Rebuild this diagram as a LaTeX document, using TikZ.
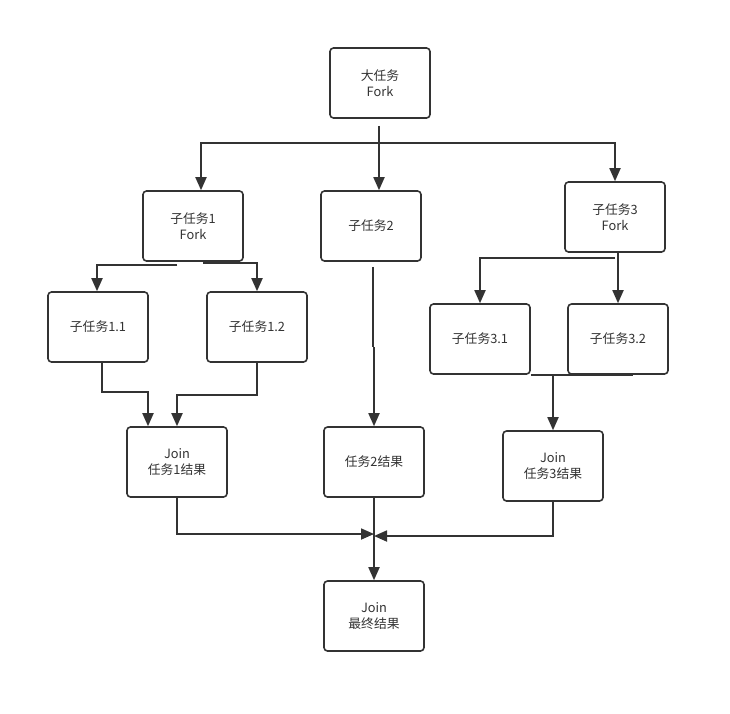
\documentclass[tikz,border=0pt]{standalone}
\usepackage{fontspec}
\setmainfont{Noto Sans CJK SC}
\usetikzlibrary{arrows.meta}
\definecolor{ink}{HTML}{333333}
\begin{document}
\begin{tikzpicture}[x=1pt,y=-1pt,
  box/.style={draw=ink, line width=1.6pt, rounded corners=3.5pt, fill=white,
    minimum width=100pt, minimum height=70pt, inner sep=0pt, align=center,
    text=ink, font=\fontsize{12.8}{15.5}\selectfont},
  conn/.style={draw=ink, line width=1.8pt},
  arr/.style={conn, -{Triangle[length=13pt,width=11pt]}}]
\useasboundingbox[fill=white] (0,0) rectangle (730,713);

\node[box] (top) at (380,83) {大任务\\Fork};
\node[box] (s1) at (193,226) {子任务1\\Fork};
\node[box] (s2) at (371,226) {子任务2};
\node[box] (s3) at (615,217) {子任务3\\Fork};
\node[box] (s11) at (98,327) {子任务1.1};
\node[box] (s12) at (257,327) {子任务1.2};
\node[box] (s31) at (480,339) {子任务3.1};
\node[box] (s32) at (618,339) {子任务3.2};
\node[box] (j1) at (177,462) {Join\\任务1结果};
\node[box] (r2) at (374,462) {任务2结果};
\node[box] (j3) at (553,466) {Join\\任务3结果};
\node[box] (fin) at (374,616) {Join\\最终结果};

% top fork
\coordinate (h0) at (379,143);
\draw[conn] ([xshift=-1pt,yshift=-7pt]top.south) -- (h0);
\draw[arr] (h0) -| ([xshift=8pt]s1.north);
\draw[arr] (h0) -- ([xshift=8pt]s2.north);
\draw[arr] (h0) -| (s3.north);

% subtask 1 fork
\draw[arr] ([xshift=-16pt,yshift=-3pt]s1.south) -| ([xshift=-1pt]s11.north);
\draw[arr] ([xshift=10pt,yshift=-1pt]s1.south) -| (s12.north);

% subtask 2
\coordinate (m2) at (373,347);
\draw[conn] ([xshift=2pt,yshift=-5pt]s2.south) -- (m2);
\draw[arr] ([xshift=1pt]m2) -- (r2.north);

% subtask 3 fork
\draw[arr] ([yshift=-5pt]s3.south) -| (s31.north);
\draw[arr] ([xshift=3pt]s3.south) -- (s32.north);

% join 1
\coordinate (k11) at (102,392);
\coordinate (k12) at (257,395);
\draw[arr] ([xshift=4pt]s11.south) -- (k11) -| ([xshift=-29pt]j1.north);
\draw[arr] (s12.south) -- (k12) -| (j1.north);

% join 3
\draw[conn] (s31.south east) -- ([xshift=15pt]s32.south);
\draw[arr] (s31.south east -| j3.north) -- (j3.north);

% final join
\coordinate (c1) at (374,534);
\coordinate (c3) at (374,536);
\draw[arr] (j1.south) |- (c1);
\draw[arr] (j3.south) |- (c3);
\draw[arr] (r2.south) -- (fin.north);
\end{tikzpicture}
\end{document}
